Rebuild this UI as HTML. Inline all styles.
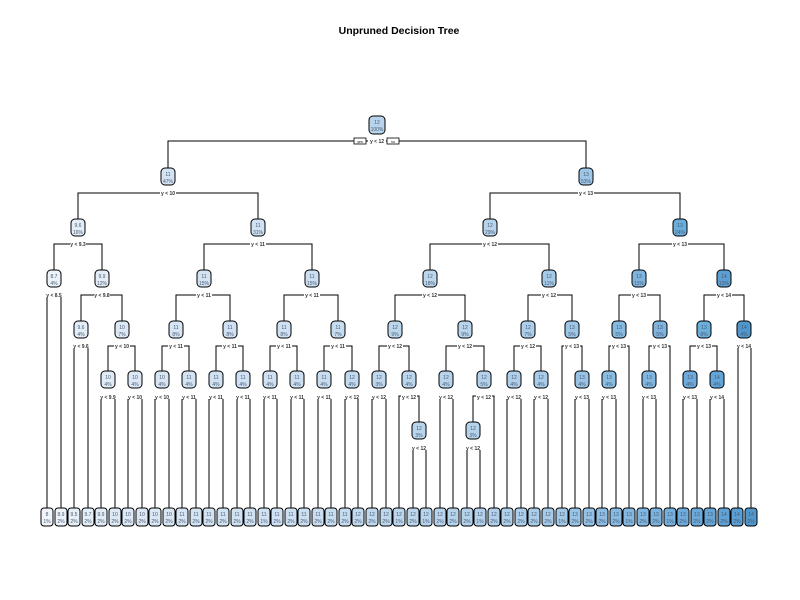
<!DOCTYPE html>
<html><head><meta charset="utf-8"><style>
html,body{margin:0;padding:0;background:#fff;}
svg{display:block;font-family:"Liberation Sans",sans-serif;}
.n text{font-size:5px;fill:#4a5a70;text-anchor:middle;}
.s{font-size:5px;fill:#333;text-anchor:middle;font-weight:bold;}
rect.b{stroke:#000;stroke-width:1;}
</style></head><body>
<svg width="800" height="600" viewBox="0 0 800 600">
<text x="399" y="34" font-size="10.5" font-weight="bold" text-anchor="middle" fill="#000">Unpruned Decision Tree</text>
<g fill="none" stroke="#000" stroke-width="1">
<path d="M168 168V141H586V168M78 219V193H258V219M490 219V193H680V219M54 270V244H102V270M204 270V244H312V270M430 270V244H549V270M639 270V244H724V270"/>
<path d="M47 508V295H61V508M81 321V295H122V321M176 321V295H230V321M284 321V295H338V321M395 321V295H465V321M528 321V295H572V321M619 321V295H660V321M704 321V295H744V321"/>
<path d="M74 508V346H88V508M108 371V346H135V371M162 371V346H189V371M216 371V346H243V371M270 371V346H297V371M324 371V346H352V371M379 371V346H409V371M446 371V346H484V371M514 371V346H541V371M562 508V346H582V371M609 371V346H629V508M649 371V346H670V508M690 371V346H717V371M738 508V346H751V508"/>
<path d="M101 508V396H115V508M128 508V396H142V508M155 508V396H169V508M182 508V396H196V508M209 508V396H223V508M237 508V396H250V508M264 508V396H277V508M291 508V396H304V508M318 508V396H331V508M345 508V396H358V508M372 508V396H386V508M399 508V396H419V422M440 508V396H453V508M473 422V396H494V508M507 508V396H521V508M534 508V396H548V508M575 508V396H589V508M602 508V396H616V508M643 508V396H656V508M683 508V396H697V508M710 508V396H724V508"/>
<path d="M413 508V447H426V508M467 508V447H480V508"/>
</g>
<g>
<rect x="354" y="138" width="12" height="6" fill="#fff" stroke="#000" stroke-width="0.8"/><text x="360" y="143" font-size="3.5" text-anchor="middle">yes</text>
<rect x="387" y="138" width="12" height="6" fill="#fff" stroke="#000" stroke-width="0.8"/><text x="393" y="143" font-size="3.5" text-anchor="middle">no</text>
<rect x="368" y="139" width="18" height="5" fill="#fff"/><text class="s" x="377" y="143">y &lt; 12</text>
</g>
<g fill="#fff">
<rect x="160" y="190" width="16" height="5"/><rect x="578" y="190" width="16" height="5"/>
<rect x="70" y="241" width="16" height="5"/><rect x="250" y="241" width="16" height="5"/><rect x="482" y="241" width="16" height="5"/><rect x="672" y="241" width="16" height="5"/>
<rect x="46" y="292" width="16" height="5"/><rect x="94" y="292" width="16" height="5"/><rect x="196" y="292" width="16" height="5"/><rect x="304" y="292" width="16" height="5"/><rect x="422" y="292" width="16" height="5"/><rect x="541" y="292" width="16" height="5"/><rect x="631" y="292" width="16" height="5"/><rect x="716" y="292" width="16" height="5"/>
<rect x="73" y="343" width="16" height="5"/><rect x="114" y="343" width="16" height="5"/><rect x="168" y="343" width="16" height="5"/><rect x="222" y="343" width="16" height="5"/><rect x="276" y="343" width="16" height="5"/><rect x="330" y="343" width="16" height="5"/><rect x="387" y="343" width="16" height="5"/><rect x="457" y="343" width="16" height="5"/><rect x="520" y="343" width="16" height="5"/><rect x="564" y="343" width="16" height="5"/><rect x="611" y="343" width="16" height="5"/><rect x="652" y="343" width="16" height="5"/><rect x="696" y="343" width="16" height="5"/><rect x="736" y="343" width="16" height="5"/>
<rect x="100" y="394" width="16" height="5"/><rect x="127" y="394" width="16" height="5"/><rect x="154" y="394" width="16" height="5"/><rect x="181" y="394" width="16" height="5"/><rect x="208" y="394" width="16" height="5"/><rect x="235" y="394" width="16" height="5"/><rect x="262" y="394" width="16" height="5"/><rect x="289" y="394" width="16" height="5"/><rect x="316" y="394" width="16" height="5"/><rect x="344" y="394" width="16" height="5"/><rect x="371" y="394" width="16" height="5"/><rect x="401" y="394" width="16" height="5"/><rect x="438" y="394" width="16" height="5"/><rect x="476" y="394" width="16" height="5"/><rect x="506" y="394" width="16" height="5"/><rect x="533" y="394" width="16" height="5"/><rect x="574" y="394" width="16" height="5"/><rect x="601" y="394" width="16" height="5"/><rect x="641" y="394" width="16" height="5"/><rect x="682" y="394" width="16" height="5"/><rect x="709" y="394" width="16" height="5"/>
<rect x="411" y="445" width="16" height="5"/><rect x="465" y="445" width="16" height="5"/>
</g>
<g class="s">
<text x="168" y="195">y &lt; 10</text><text x="586" y="195">y &lt; 13</text>
<text x="78" y="246">y &lt; 9.3</text><text x="258" y="246">y &lt; 11</text><text x="490" y="246">y &lt; 12</text><text x="680" y="246">y &lt; 13</text>
<text x="54" y="297">y &lt; 8.5</text><text x="102" y="297">y &lt; 9.8</text><text x="204" y="297">y &lt; 11</text><text x="312" y="297">y &lt; 11</text><text x="430" y="297">y &lt; 12</text><text x="549" y="297">y &lt; 12</text><text x="639" y="297">y &lt; 13</text><text x="724" y="297">y &lt; 14</text>
<text x="81" y="348">y &lt; 9.6</text><text x="122" y="348">y &lt; 10</text><text x="176" y="348">y &lt; 11</text><text x="230" y="348">y &lt; 11</text><text x="284" y="348">y &lt; 11</text><text x="338" y="348">y &lt; 11</text><text x="395" y="348">y &lt; 12</text><text x="465" y="348">y &lt; 12</text><text x="528" y="348">y &lt; 12</text><text x="572" y="348">y &lt; 13</text><text x="619" y="348">y &lt; 13</text><text x="660" y="348">y &lt; 13</text><text x="704" y="348">y &lt; 13</text><text x="744" y="348">y &lt; 14</text>
<text x="108" y="399">y &lt; 9.9</text><text x="135" y="399">y &lt; 10</text><text x="162" y="399">y &lt; 10</text><text x="189" y="399">y &lt; 11</text><text x="216" y="399">y &lt; 11</text><text x="243" y="399">y &lt; 11</text><text x="270" y="399">y &lt; 11</text><text x="297" y="399">y &lt; 11</text><text x="324" y="399">y &lt; 11</text><text x="352" y="399">y &lt; 12</text><text x="379" y="399">y &lt; 12</text><text x="409" y="399">y &lt; 12</text><text x="446" y="399">y &lt; 12</text><text x="484" y="399">y &lt; 12</text><text x="514" y="399">y &lt; 12</text><text x="541" y="399">y &lt; 12</text><text x="582" y="399">y &lt; 13</text><text x="609" y="399">y &lt; 13</text><text x="649" y="399">y &lt; 13</text><text x="690" y="399">y &lt; 13</text><text x="717" y="399">y &lt; 14</text>
<text x="419" y="450">y &lt; 12</text><text x="473" y="450">y &lt; 12</text>
</g>
<g class="n">
<g><rect class="b" x="369" y="116" width="16" height="18" rx="4" fill="#b7d4ec"/><text x="377" y="124">12</text><text x="377" y="131">100%</text></g>
<g><rect class="b" x="161" y="168" width="14" height="17" rx="4" fill="#d3e3f3"/><text x="168" y="176">11</text><text x="168" y="183">47%</text></g>
<g><rect class="b" x="579" y="168" width="14" height="17" rx="4" fill="#9dc6e7"/><text x="586" y="176">13</text><text x="586" y="183">53%</text></g>
<g><rect class="b" x="71" y="219" width="14" height="17" rx="4" fill="#e3edf7"/><text x="78" y="227">9.6</text><text x="78" y="234">16%</text></g>
<g><rect class="b" x="251" y="219" width="14" height="17" rx="4" fill="#cfe1f2"/><text x="258" y="227">11</text><text x="258" y="234">31%</text></g>
<g><rect class="b" x="483" y="219" width="14" height="17" rx="4" fill="#b7d4ec"/><text x="490" y="227">12</text><text x="490" y="234">29%</text></g>
<g><rect class="b" x="673" y="219" width="14" height="17" rx="4" fill="#6aaedc"/><text x="680" y="227">13</text><text x="680" y="234">24%</text></g>
<g><rect class="b" x="47" y="270" width="14" height="17" rx="4" fill="#ebf2f9"/><text x="54" y="278">8.7</text><text x="54" y="285">4%</text></g>
<g><rect class="b" x="95" y="270" width="14" height="17" rx="4" fill="#e3edf7"/><text x="102" y="278">9.9</text><text x="102" y="285">12%</text></g>
<g><rect class="b" x="197" y="270" width="14" height="17" rx="4" fill="#d3e3f3"/><text x="204" y="278">11</text><text x="204" y="285">15%</text></g>
<g><rect class="b" x="305" y="270" width="14" height="17" rx="4" fill="#cbdff1"/><text x="312" y="278">11</text><text x="312" y="285">15%</text></g>
<g><rect class="b" x="423" y="270" width="14" height="17" rx="4" fill="#bcd7ed"/><text x="430" y="278">12</text><text x="430" y="285">18%</text></g>
<g><rect class="b" x="542" y="270" width="14" height="17" rx="4" fill="#a4cae8"/><text x="549" y="278">12</text><text x="549" y="285">11%</text></g>
<g><rect class="b" x="632" y="270" width="14" height="17" rx="4" fill="#7fb4de"/><text x="639" y="278">13</text><text x="639" y="285">11%</text></g>
<g><rect class="b" x="717" y="270" width="14" height="17" rx="4" fill="#5c9fd2"/><text x="724" y="278">14</text><text x="724" y="285">13%</text></g>
<g><rect class="b" x="74" y="321" width="14" height="17" rx="4" fill="#e3edf7"/><text x="81" y="329">9.6</text><text x="81" y="336">4%</text></g>
<g><rect class="b" x="115" y="321" width="14" height="17" rx="4" fill="#dce8f5"/><text x="122" y="329">10</text><text x="122" y="336">7%</text></g>
<g><rect class="b" x="169" y="321" width="14" height="17" rx="4" fill="#d6e5f4"/><text x="176" y="329">11</text><text x="176" y="336">8%</text></g>
<g><rect class="b" x="223" y="321" width="14" height="17" rx="4" fill="#cfe1f2"/><text x="230" y="329">11</text><text x="230" y="336">8%</text></g>
<g><rect class="b" x="277" y="321" width="14" height="17" rx="4" fill="#cfe1f2"/><text x="284" y="329">11</text><text x="284" y="336">8%</text></g>
<g><rect class="b" x="331" y="321" width="14" height="17" rx="4" fill="#c6dcf0"/><text x="338" y="329">11</text><text x="338" y="336">7%</text></g>
<g><rect class="b" x="388" y="321" width="14" height="17" rx="4" fill="#bcd7ed"/><text x="395" y="329">12</text><text x="395" y="336">9%</text></g>
<g><rect class="b" x="458" y="321" width="14" height="17" rx="4" fill="#b7d4ec"/><text x="465" y="329">12</text><text x="465" y="336">9%</text></g>
<g><rect class="b" x="521" y="321" width="14" height="17" rx="4" fill="#acceea"/><text x="528" y="329">12</text><text x="528" y="336">7%</text></g>
<g><rect class="b" x="565" y="321" width="14" height="17" rx="4" fill="#9dc6e7"/><text x="572" y="329">13</text><text x="572" y="336">5%</text></g>
<g><rect class="b" x="612" y="321" width="14" height="17" rx="4" fill="#86bbe1"/><text x="619" y="329">13</text><text x="619" y="336">5%</text></g>
<g><rect class="b" x="653" y="321" width="14" height="17" rx="4" fill="#7fb4de"/><text x="660" y="329">13</text><text x="660" y="336">5%</text></g>
<g><rect class="b" x="697" y="321" width="14" height="17" rx="4" fill="#6aaedc"/><text x="704" y="329">13</text><text x="704" y="336">8%</text></g>
<g><rect class="b" x="737" y="321" width="14" height="17" rx="4" fill="#4f97cc"/><text x="744" y="329">14</text><text x="744" y="336">4%</text></g>
<g><rect class="b" x="101" y="371" width="14" height="17" rx="4" fill="#e0ebf6"/><text x="108" y="379">10</text><text x="108" y="386">4%</text></g>
<g><rect class="b" x="128" y="371" width="14" height="17" rx="4" fill="#dce8f5"/><text x="135" y="379">10</text><text x="135" y="386">4%</text></g>
<g><rect class="b" x="155" y="371" width="14" height="17" rx="4" fill="#d8e6f4"/><text x="162" y="379">10</text><text x="162" y="386">4%</text></g>
<g><rect class="b" x="182" y="371" width="14" height="17" rx="4" fill="#d3e3f3"/><text x="189" y="379">11</text><text x="189" y="386">4%</text></g>
<g><rect class="b" x="209" y="371" width="14" height="17" rx="4" fill="#d0e2f2"/><text x="216" y="379">11</text><text x="216" y="386">4%</text></g>
<g><rect class="b" x="236" y="371" width="14" height="17" rx="4" fill="#cfe1f2"/><text x="243" y="379">11</text><text x="243" y="386">4%</text></g>
<g><rect class="b" x="263" y="371" width="14" height="17" rx="4" fill="#cfe1f2"/><text x="270" y="379">11</text><text x="270" y="386">4%</text></g>
<g><rect class="b" x="290" y="371" width="14" height="17" rx="4" fill="#cbdff1"/><text x="297" y="379">11</text><text x="297" y="386">4%</text></g>
<g><rect class="b" x="317" y="371" width="14" height="17" rx="4" fill="#c8ddf0"/><text x="324" y="379">11</text><text x="324" y="386">4%</text></g>
<g><rect class="b" x="345" y="371" width="14" height="17" rx="4" fill="#c2daef"/><text x="352" y="379">12</text><text x="352" y="386">4%</text></g>
<g><rect class="b" x="372" y="371" width="14" height="17" rx="4" fill="#bfd8ee"/><text x="379" y="379">12</text><text x="379" y="386">3%</text></g>
<g><rect class="b" x="402" y="371" width="14" height="17" rx="4" fill="#bbd6ed"/><text x="409" y="379">12</text><text x="409" y="386">4%</text></g>
<g><rect class="b" x="439" y="371" width="14" height="17" rx="4" fill="#b7d4ec"/><text x="446" y="379">12</text><text x="446" y="386">4%</text></g>
<g><rect class="b" x="477" y="371" width="14" height="17" rx="4" fill="#b3d1eb"/><text x="484" y="379">12</text><text x="484" y="386">5%</text></g>
<g><rect class="b" x="507" y="371" width="14" height="17" rx="4" fill="#afcfea"/><text x="514" y="379">12</text><text x="514" y="386">4%</text></g>
<g><rect class="b" x="534" y="371" width="14" height="17" rx="4" fill="#a8cce9"/><text x="541" y="379">12</text><text x="541" y="386">4%</text></g>
<g><rect class="b" x="575" y="371" width="14" height="17" rx="4" fill="#98c3e5"/><text x="582" y="379">13</text><text x="582" y="386">4%</text></g>
<g><rect class="b" x="602" y="371" width="14" height="17" rx="4" fill="#8abde2"/><text x="609" y="379">13</text><text x="609" y="386">4%</text></g>
<g><rect class="b" x="642" y="371" width="14" height="17" rx="4" fill="#80b6df"/><text x="649" y="379">13</text><text x="649" y="386">4%</text></g>
<g><rect class="b" x="683" y="371" width="14" height="17" rx="4" fill="#6eaadb"/><text x="690" y="379">13</text><text x="690" y="386">4%</text></g>
<g><rect class="b" x="710" y="371" width="14" height="17" rx="4" fill="#64a5d8"/><text x="717" y="379">14</text><text x="717" y="386">4%</text></g>
<g><rect class="b" x="412" y="422" width="14" height="17" rx="4" fill="#b9d5ed"/><text x="419" y="430">12</text><text x="419" y="437">3%</text></g>
<g><rect class="b" x="466" y="422" width="14" height="17" rx="4" fill="#b5d2eb"/><text x="473" y="430">12</text><text x="473" y="437">3%</text></g>
</g>
<g class="n">
<g><rect class="b" x="41" y="508" width="12" height="18" rx="3" fill="#f0f5fb"/><text x="47" y="516">8</text><text x="47" y="523">1%</text></g>
<g><rect class="b" x="55" y="508" width="12" height="18" rx="3" fill="#ebf2f9"/><text x="61" y="516">8.9</text><text x="61" y="523">2%</text></g>
<g><rect class="b" x="68" y="508" width="12" height="18" rx="3" fill="#e6eff8"/><text x="74" y="516">9.5</text><text x="74" y="523">2%</text></g>
<g><rect class="b" x="82" y="508" width="12" height="18" rx="3" fill="#e4eef7"/><text x="88" y="516">9.7</text><text x="88" y="523">2%</text></g>
<g><rect class="b" x="95" y="508" width="12" height="18" rx="3" fill="#e2ecf7"/><text x="101" y="516">9.9</text><text x="101" y="523">2%</text></g>
<g><rect class="b" x="109" y="508" width="12" height="18" rx="3" fill="#dde9f5"/><text x="115" y="516">10</text><text x="115" y="523">2%</text></g>
<g><rect class="b" x="122" y="508" width="12" height="18" rx="3" fill="#dde9f5"/><text x="128" y="516">10</text><text x="128" y="523">2%</text></g>
<g><rect class="b" x="136" y="508" width="12" height="18" rx="3" fill="#dbe7f5"/><text x="142" y="516">10</text><text x="142" y="523">2%</text></g>
<g><rect class="b" x="149" y="508" width="12" height="18" rx="3" fill="#dae7f4"/><text x="155" y="516">10</text><text x="155" y="523">2%</text></g>
<g><rect class="b" x="163" y="508" width="12" height="18" rx="3" fill="#d8e6f4"/><text x="169" y="516">10</text><text x="169" y="523">2%</text></g>
<g><rect class="b" x="176" y="508" width="12" height="18" rx="3" fill="#d6e5f4"/><text x="182" y="516">11</text><text x="182" y="523">2%</text></g>
<g><rect class="b" x="190" y="508" width="12" height="18" rx="3" fill="#d4e4f3"/><text x="196" y="516">11</text><text x="196" y="523">2%</text></g>
<g><rect class="b" x="203" y="508" width="12" height="18" rx="3" fill="#d3e3f3"/><text x="209" y="516">11</text><text x="209" y="523">2%</text></g>
<g><rect class="b" x="217" y="508" width="12" height="18" rx="3" fill="#d2e3f3"/><text x="223" y="516">11</text><text x="223" y="523">2%</text></g>
<g><rect class="b" x="231" y="508" width="12" height="18" rx="3" fill="#d1e2f2"/><text x="237" y="516">11</text><text x="237" y="523">2%</text></g>
<g><rect class="b" x="244" y="508" width="12" height="18" rx="3" fill="#d0e2f2"/><text x="250" y="516">11</text><text x="250" y="523">2%</text></g>
<g><rect class="b" x="258" y="508" width="12" height="18" rx="3" fill="#cfe1f2"/><text x="264" y="516">11</text><text x="264" y="523">1%</text></g>
<g><rect class="b" x="271" y="508" width="12" height="18" rx="3" fill="#cfe1f2"/><text x="277" y="516">11</text><text x="277" y="523">2%</text></g>
<g><rect class="b" x="285" y="508" width="12" height="18" rx="3" fill="#cde0f1"/><text x="291" y="516">11</text><text x="291" y="523">2%</text></g>
<g><rect class="b" x="298" y="508" width="12" height="18" rx="3" fill="#cbdff1"/><text x="304" y="516">11</text><text x="304" y="523">2%</text></g>
<g><rect class="b" x="312" y="508" width="12" height="18" rx="3" fill="#c9def1"/><text x="318" y="516">11</text><text x="318" y="523">2%</text></g>
<g><rect class="b" x="325" y="508" width="12" height="18" rx="3" fill="#c7ddf0"/><text x="331" y="516">11</text><text x="331" y="523">2%</text></g>
<g><rect class="b" x="339" y="508" width="12" height="18" rx="3" fill="#c5dcf0"/><text x="345" y="516">11</text><text x="345" y="523">2%</text></g>
<g><rect class="b" x="352" y="508" width="12" height="18" rx="3" fill="#c2daef"/><text x="358" y="516">12</text><text x="358" y="523">2%</text></g>
<g><rect class="b" x="366" y="508" width="12" height="18" rx="3" fill="#c0d9ee"/><text x="372" y="516">12</text><text x="372" y="523">2%</text></g>
<g><rect class="b" x="380" y="508" width="12" height="18" rx="3" fill="#bed8ee"/><text x="386" y="516">12</text><text x="386" y="523">2%</text></g>
<g><rect class="b" x="393" y="508" width="12" height="18" rx="3" fill="#bcd7ed"/><text x="399" y="516">12</text><text x="399" y="523">1%</text></g>
<g><rect class="b" x="407" y="508" width="12" height="18" rx="3" fill="#bbd6ed"/><text x="413" y="516">12</text><text x="413" y="523">2%</text></g>
<g><rect class="b" x="420" y="508" width="12" height="18" rx="3" fill="#b9d5ed"/><text x="426" y="516">12</text><text x="426" y="523">1%</text></g>
<g><rect class="b" x="434" y="508" width="12" height="18" rx="3" fill="#b8d4ec"/><text x="440" y="516">12</text><text x="440" y="523">2%</text></g>
<g><rect class="b" x="447" y="508" width="12" height="18" rx="3" fill="#b6d3ec"/><text x="453" y="516">12</text><text x="453" y="523">2%</text></g>
<g><rect class="b" x="461" y="508" width="12" height="18" rx="3" fill="#b5d2eb"/><text x="467" y="516">12</text><text x="467" y="523">2%</text></g>
<g><rect class="b" x="474" y="508" width="12" height="18" rx="3" fill="#b3d1eb"/><text x="480" y="516">12</text><text x="480" y="523">1%</text></g>
<g><rect class="b" x="488" y="508" width="12" height="18" rx="3" fill="#b1d0eb"/><text x="494" y="516">12</text><text x="494" y="523">2%</text></g>
<g><rect class="b" x="501" y="508" width="12" height="18" rx="3" fill="#afcfea"/><text x="507" y="516">12</text><text x="507" y="523">2%</text></g>
<g><rect class="b" x="515" y="508" width="12" height="18" rx="3" fill="#acceea"/><text x="521" y="516">12</text><text x="521" y="523">2%</text></g>
<g><rect class="b" x="528" y="508" width="12" height="18" rx="3" fill="#aacde9"/><text x="534" y="516">12</text><text x="534" y="523">2%</text></g>
<g><rect class="b" x="542" y="508" width="12" height="18" rx="3" fill="#a6cbe8"/><text x="548" y="516">12</text><text x="548" y="523">2%</text></g>
<g><rect class="b" x="556" y="508" width="12" height="18" rx="3" fill="#a2c9e8"/><text x="562" y="516">12</text><text x="562" y="523">1%</text></g>
<g><rect class="b" x="569" y="508" width="12" height="18" rx="3" fill="#9ac4e6"/><text x="575" y="516">13</text><text x="575" y="523">2%</text></g>
<g><rect class="b" x="583" y="508" width="12" height="18" rx="3" fill="#95c1e5"/><text x="589" y="516">13</text><text x="589" y="523">2%</text></g>
<g><rect class="b" x="596" y="508" width="12" height="18" rx="3" fill="#8ebee3"/><text x="602" y="516">13</text><text x="602" y="523">2%</text></g>
<g><rect class="b" x="610" y="508" width="12" height="18" rx="3" fill="#89bbe2"/><text x="616" y="516">13</text><text x="616" y="523">2%</text></g>
<g><rect class="b" x="623" y="508" width="12" height="18" rx="3" fill="#84b8e0"/><text x="629" y="516">13</text><text x="629" y="523">1%</text></g>
<g><rect class="b" x="637" y="508" width="12" height="18" rx="3" fill="#80b6df"/><text x="643" y="516">13</text><text x="643" y="523">2%</text></g>
<g><rect class="b" x="650" y="508" width="12" height="18" rx="3" fill="#7bb3de"/><text x="656" y="516">13</text><text x="656" y="523">2%</text></g>
<g><rect class="b" x="664" y="508" width="12" height="18" rx="3" fill="#76b0dd"/><text x="670" y="516">13</text><text x="670" y="523">1%</text></g>
<g><rect class="b" x="677" y="508" width="12" height="18" rx="3" fill="#70acdb"/><text x="683" y="516">13</text><text x="683" y="523">2%</text></g>
<g><rect class="b" x="691" y="508" width="12" height="18" rx="3" fill="#6aa9da"/><text x="697" y="516">13</text><text x="697" y="523">2%</text></g>
<g><rect class="b" x="704" y="508" width="12" height="18" rx="3" fill="#66a6d8"/><text x="710" y="516">13</text><text x="710" y="523">2%</text></g>
<g><rect class="b" x="718" y="508" width="12" height="18" rx="3" fill="#60a2d5"/><text x="724" y="516">14</text><text x="724" y="523">2%</text></g>
<g><rect class="b" x="731" y="508" width="12" height="18" rx="3" fill="#5a9ed3"/><text x="737" y="516">14</text><text x="737" y="523">2%</text></g>
<g><rect class="b" x="745" y="508" width="12" height="18" rx="3" fill="#4f97cc"/><text x="751" y="516">14</text><text x="751" y="523">2%</text></g>
</g>
</svg>
</body></html>
